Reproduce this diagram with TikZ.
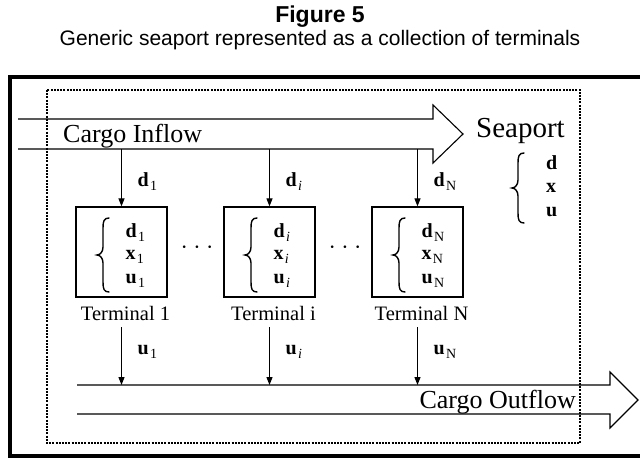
\documentclass[tikz,border=0pt]{standalone}
\usepackage{fontspec}
\setmainfont{Liberation Serif}
\newfontfamily\titlefont{Liberation Sans}
\usetikzlibrary{arrows.meta}

% bold vector symbol with a plain subscript
\newcommand\vlab[2]{{\bfseries #1}\kern1.2pt\raisebox{-4pt}{\fontsize{14}{14}\selectfont #2}}

\begin{document}
\begin{tikzpicture}[x=1pt,y=-1pt,
  frame/.style={line width=3.2pt},
  flow/.style={line width=1.1pt, line join=miter},
  termbox/.style={draw, line width=1.3pt, minimum width=91pt, minimum height=90pt, inner sep=0pt},
  feed/.style={line width=1.1pt, -{Triangle[length=8pt,width=6pt]}},
  lbl/.style={font=\fontsize{20.5}{22}\selectfont, inner sep=0pt},
  sublbl/.style={font=\fontsize{20}{22}\selectfont, inner sep=0pt, anchor=west},
  bigtxt/.style={font=\fontsize{26}{28}\selectfont, inner sep=0pt},
  dots/.style={font=\fontsize{22}{24}\selectfont, inner sep=0pt},
  % left curly brace of half-height #1, tip at (-6,0)
  lbrace/.pic={
    \draw[line width=1.4pt, line cap=round]
      (6,-#1) .. controls (1,-#1) and (0,-#1+3) .. (0,-#1+10) -- (0,-8)
      .. controls (0,-3) and (-3,0) .. (-6,0)
      .. controls (-3,0) and (0,3) .. (0,8) -- (0,#1-10)
      .. controls (0,#1-3) and (1,#1) .. (6,#1);
  }
]
\useasboundingbox (0,0) rectangle (640,459);

% heading
\node[font=\titlefont\bfseries\fontsize{23}{25}\selectfont, inner sep=0pt] (fig) at (320,17) {Figure 5};
\node[font=\titlefont\fontsize{21}{23}\selectfont, inner sep=0pt] (cap) at (320,40) {Generic seaport represented as a collection of terminals};

% outer frame (open on the right)
\draw[frame] (640,77) -- (10,77) -- (10,456) -- (640,456);

% cargo inflow arrow
\draw[flow] (18,119) -- (433,119) -- (433,105) -- (463,134) -- (433,163) -- (433,149) -- (18,149);
\node[bigtxt, anchor=west] (inflow) at (63,136) {Cargo Inflow};

% cargo outflow arrow
\draw[flow] (77,385) -- (610,385) -- (610,372) -- (638,400) -- (610,428) -- (610,414) -- (77,414);
\node[bigtxt, anchor=east] (outflow) at (576,402) {Cargo Outflow};

% seaport label and its state
\node[font=\fontsize{29}{31}\selectfont, inner sep=0pt, anchor=west] (seaport) at (476,131) {Seaport};
\pic at (518,188) {lbrace=35};
\node[sublbl] (sd) at (546,163) {\textbf{d}};
\node[sublbl] (sx) at (546,188) {\textbf{x}};
\node[sublbl] (su) at (546,212) {\textbf{u}};

% terminals
\foreach \n/\cx/\s/\t in {1/121.5/1/1, i/269.5/{\itshape i}/i, N/417.5/N/N}{
  \node[termbox] (box\n) at (\cx,252) {};
  \pic at (\cx-18.5,255) {lbrace=37};
  \node[sublbl] (bd\n) at (\cx+4,233) {\vlab{d}{\s}};
  \node[sublbl] (bx\n) at (\cx+4,257) {\vlab{x}{\s}};
  \node[sublbl] (bu\n) at (\cx+4,281) {\vlab{u}{\s}};
  \node[lbl] (term\n) at (\cx+4,313) {Terminal \t};
  \coordinate (in\n) at (\cx,149);
  \coordinate (from\n) at (\cx,327);
  \coordinate (out\n) at (\cx,385);
  \draw[feed] (in\n) -- (box\n.north);
  \draw[feed] (from\n) -- (out\n);
  \node[sublbl] (din\n) at (\cx+16,182) {\vlab{d}{\s}};
  \node[sublbl] (uout\n) at (\cx+16,352) {\vlab{u}{\s}};
}

% ellipses between terminals
\node[dots] (dots1) at (197,250) {\textperiodcentered\ \textperiodcentered\ \textperiodcentered};
\node[dots] (dots2) at (345,250) {\textperiodcentered\ \textperiodcentered\ \textperiodcentered};

% seaport boundary
\draw[line width=1.2pt, dash pattern=on 2pt off 1.2pt] (47,90) rectangle (580,443);
\end{tikzpicture}
\end{document}
